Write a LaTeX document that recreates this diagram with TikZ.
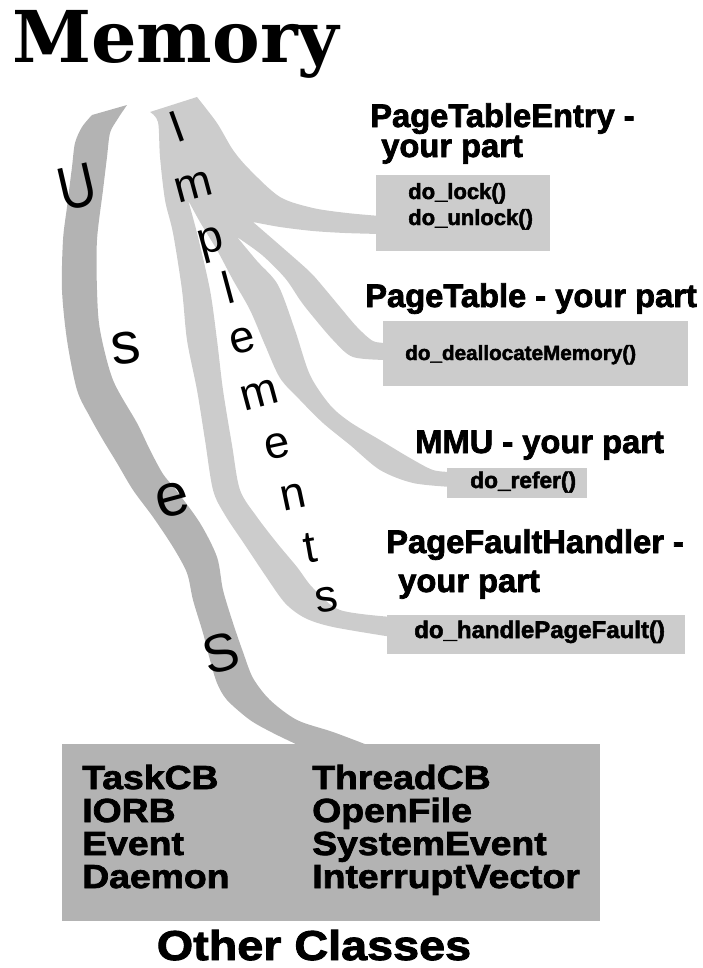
\documentclass[tikz,border=0pt]{standalone}
\usepackage{fontspec}
\setmainfont{Liberation Sans}
\newfontfamily\heavyfont{Liberation Sans}[BoldFeatures={FakeBold=2.2}]
\newfontfamily\widefont{Liberation Sans}[FakeStretch=1.12,BoldFeatures={FakeBold=2.2}]
\newfontfamily\titlefont{DejaVu Serif}
\definecolor{bandlight}{HTML}{CCCCCC}
\definecolor{banddark}{HTML}{B3B3B3}
\begin{document}
\begin{tikzpicture}[x=0.75pt,y=-0.75pt,
  heading/.style={anchor=base west,inner sep=0pt,
    font=\heavyfont\bfseries\fontsize{24.5}{28}\selectfont},
  method/.style={anchor=base west,inner sep=0pt,
    font=\heavyfont\bfseries\fontsize{#1}{#1}\selectfont},
  classname/.style={anchor=base west,inner sep=0pt,
    font=\widefont\bfseries\fontsize{25}{27}\selectfont},
  methodbox/.style={fill=bandlight,draw=none,inner sep=0pt,anchor=north west},
  classbox/.style={fill=banddark,draw=none,inner sep=0pt,anchor=north west},
  flow/.style={inner sep=0pt,font=\fontsize{#1}{#1}\selectfont},
]
\useasboundingbox (0,0) rectangle (703,968);

% ---- "implements" ribbon: one trunk splitting into four fingers
\fill[bandlight]
  (150,112) -- (197,97)
  -- plot[smooth] coordinates {(197,97) (217,123) (233,150) (250,170) (280,197) (313,208) (347,213) (380,216)}
  -- (380,234)
  -- plot[smooth] coordinates {(380,234) (345,233) (313,231) (280,227) (253,222)}
  -- plot[smooth] coordinates {(253,222) (283,248) (310,272) (325,289) (340,307) (357,327) (373,341) (388,343)}
  -- (388,360)
  -- plot[smooth] coordinates {(388,360) (353,357) (333,340) (310,313) (300,300) (285,278) (262,255) (237,237)}
  -- plot[smooth] coordinates {(237,237) (257,261) (278,285) (295,330) (310,375) (330,405) (350,422) (380,440) (410,458) (433,470) (452,472)}
  -- (452,487)
  -- plot[smooth] coordinates {(452,487) (413,483) (380,470) (350,445) (323,423) (300,400) (280,378) (265,345) (250,310) (233,280) (217,250) (200,222) (188,200)}
  -- plot[smooth] coordinates {(188,200) (197,233) (210,290) (217,340) (223,390) (232,445) (240,490) (257,517) (277,543) (297,567) (313,588) (340,610) (392,617)}
  -- (392,637)
  -- plot[smooth] coordinates {(392,637) (333,627) (305,618) (285,603) (265,575) (245,545) (225,515) (213,490) (205,440) (197,390) (187,340) (182,290) (173,233) (165,200) (160,157) (158,122) (150,112)}
  -- cycle;

% ---- "uses" ribbon
\fill[banddark]
  plot[smooth] coordinates {(92,115) (82,127) (75,143) (72,167) (67,207) (63,240) (62,290) (67,340) (77,390) (90,417) (103,440) (117,463) (133,490) (153,517) (173,547) (187,573) (193,600) (203,633) (210,660) (217,683) (227,700) (250,720) (273,733) (300,746)}
  -- (300,760) -- (370,760)
  -- plot[smooth] coordinates {(370,746) (333,732) (297,720) (270,700) (253,678) (243,652) (233,623) (223,590) (217,557) (200,523) (176,490) (163,474) (150,450) (137,423) (113,380) (100,330) (97,290) (97,240) (103,190) (107,157) (110,133) (117,120) (127,105)}
  -- cycle;

% ---- boxes
\node[methodbox,minimum width=130.5pt,minimum height=57pt] (pte) at (376,175) {};
\node[methodbox,minimum width=228.75pt,minimum height=48.75pt] (ptab) at (383,321) {};
\node[methodbox,minimum width=105pt,minimum height=22.5pt] (mmu) at (447,468) {};
\node[methodbox,minimum width=223.5pt,minimum height=29.25pt] (pfh) at (387,615) {};
\node[classbox,minimum width=403.5pt,minimum height=132.75pt] (others) at (62,744) {};

% ---- title
\node[anchor=base west,inner sep=0pt,font=\titlefont\bfseries\fontsize{53.6}{58}\selectfont] (title) at (12,62) {Memory};

% ---- class headings
\node[heading] (hpte1) at (370,127) {PageTableEntry -};
\node[heading] (hpte2) at (381,157) {your part};
\node[heading] (hptab) at (365,307) {PageTable - your part};
\node[heading] (hmmu) at (415,453) {MMU - your part};
\node[heading] (hpfh1) at (386,553) {PageFaultHandler -};
\node[heading] (hpfh2) at (398,592) {your part};

% ---- methods
\node[method=16.5] (m1) at (408,199) {do\_lock()};
\node[method=16.5] (m2) at (408,225) {do\_unlock()};
\node[method=15.5] (m3) at (405,360) {do\_deallocateMemory()};
\node[method=17] (m4) at (470,488) {do\_refer()};
\node[method=18] (m5) at (414,638) {do\_handlePageFault()};

% ---- other classes
\node[classname] (c1) at (82,789) {TaskCB};
\node[classname] (c2) at (82,822) {IORB};
\node[classname] (c3) at (82,855) {Event};
\node[classname] (c4) at (82,888) {Daemon};
\node[classname] (c5) at (312,789) {ThreadCB};
\node[classname] (c6) at (312,822) {OpenFile};
\node[classname] (c7) at (312,855) {SystemEvent};
\node[classname] (c8) at (312,888) {InterruptVector};
\node[anchor=base,inner sep=0pt,font=\widefont\bfseries\fontsize{31.3}{34}\selectfont] (otherlabel) at (314,960) {Other Classes};

% ---- letters running along the "implements" ribbon
\node[flow=34,rotate=20] (i1) at (177,127) {I};
\node[flow=34,rotate=15] (i2) at (194,187) {m};
\node[flow=34,rotate=15] (i3) at (212,245) {p};
\node[flow=34,rotate=15] (i4) at (228,287) {l};
\node[flow=34,rotate=15] (i5) at (243,341) {e};
\node[flow=34,rotate=15] (i6) at (260,395) {m};
\node[flow=34,rotate=12] (i7) at (277,446) {e};
\node[flow=34,rotate=12] (i8) at (293,497) {n};
\node[flow=34,rotate=10] (i9) at (310,548) {t};
\node[flow=34,rotate=10] (i10) at (327,600) {s};

% ---- letters running along the "uses" ribbon
\node[flow=46,rotate=13,xscale=0.85] (u1) at (77,187) {U};
\node[flow=44,rotate=8] (u2) at (126,348) {s};
\node[flow=45,rotate=15] (u3) at (173,500) {e};
\node[flow=40,rotate=15] (u4) at (221,653) {S};
\end{tikzpicture}
\end{document}
